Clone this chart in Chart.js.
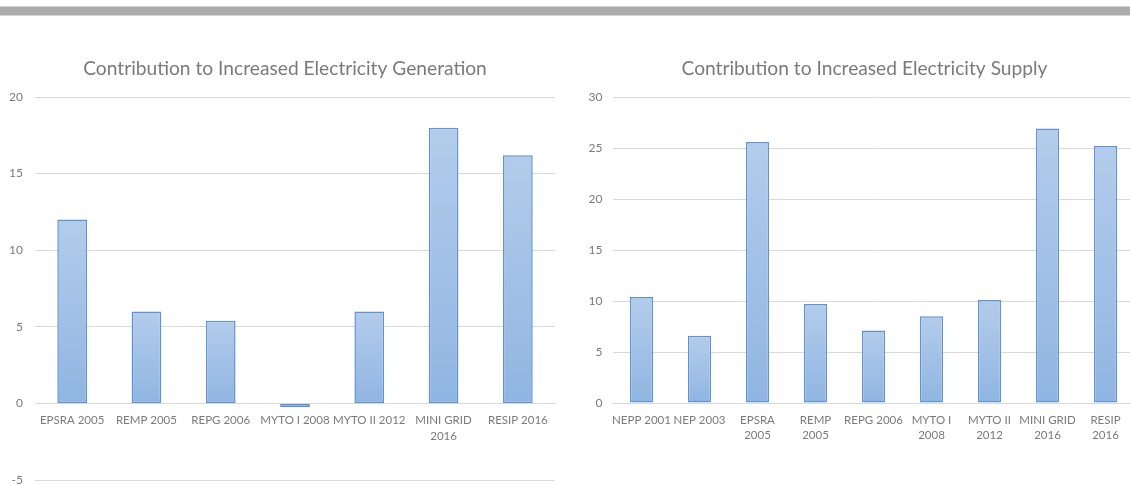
<!DOCTYPE html>
<html>
<head>
<meta charset="utf-8">
<script src="https://cdn.jsdelivr.net/npm/chart.js@4/dist/chart.umd.min.js"></script>
<style>
  html, body { margin: 0; padding: 0; background: #ffffff; overflow: hidden; width: 1130px; height: 485px; }
  #band { position: absolute; left: 0; top: 6px; width: 1130px; height: 8px; background: #ababab;
          border-top: 1px solid #d4d4d4; border-bottom: 1px solid #d4d4d4; }
  canvas { position: absolute; top: 0; }
  #gen { left: 0; }
  #supply { left: 575px; }
</style>
</head>
<body>
<div id="band"></div>
<canvas id="gen" width="570" height="525"></canvas>
<canvas id="supply" width="579" height="485"></canvas>
<script>
// Policy contribution to increased electricity generation
const genTitle = 'Contribution to Increased Electricity Generation';
const genLabels = ['EPSRA 2005', 'REMP 2005', 'REPG 2006', 'MYTO I 2008', 'MYTO II 2012', ['MINI GRID', '2016'], 'RESIP 2016'];
const genValues = [12, 6, 5.4, -0.25, 6, 18, 16.2];
const genTicks = { min: -5, max: 20, step: 5 };

// Policy contribution to increased electricity supply
const supplyTitle = 'Contribution to Increased Electricity Supply';
const supplyLabels = ['NEPP 2001', 'NEP 2003', ['EPSRA', '2005'], ['REMP', '2005'], 'REPG 2006', ['MYTO I', '2008'], ['MYTO II', '2012'], ['MINI GRID', '2016'], ['RESIP', '2016']];
const supplyValues = [10.4, 6.6, 25.6, 9.7, 7.1, 8.5, 10.1, 26.9, 25.2];
const supplyTicks = { min: 0, max: 30, step: 5 };

const FONT = 'Lato, "Open Sans", sans-serif';
const TEXT = '#7a7a7a';
const GRID = '#d9d9d9';

// Chart heading centred across the whole canvas (the built-in title is
// centred between the layout paddings, which sit off-centre here)
const canvasTitle = {
  id: 'canvasTitle',
  afterDraw(chart, args, opts) {
    const ctx = chart.ctx;
    ctx.save();
    ctx.font = 'normal ' + opts.size + 'px ' + FONT;
    ctx.fillStyle = opts.color;
    ctx.textAlign = 'center';
    ctx.textBaseline = 'middle';
    ctx.fillText(opts.text, chart.width / 2, opts.y);
    ctx.restore();
  }
};

// Each bar shades from a pale blue at its top to a deeper blue at the baseline
function barFill(ctx) {
  const chart = ctx.chart;
  const y = chart.scales && chart.scales.y;
  if (!y || !chart.chartArea || ctx.raw === undefined) return '#a6c3e6';
  const top = y.getPixelForValue(ctx.raw);
  const base = y.getPixelForValue(0);
  if (!isFinite(top) || Math.abs(top - base) < 1) return '#a6c3e6';
  const g = chart.ctx.createLinearGradient(0, top, 0, base);
  g.addColorStop(0, '#b3cceb');
  g.addColorStop(1, '#90b5e2');
  return g;
}

function makeChart(id, title, labels, values, ticks, geom) {
  return new Chart(document.getElementById(id), {
    type: 'bar',
    plugins: [canvasTitle],
    data: {
      labels: labels,
      datasets: [{
        data: values,
        backgroundColor: barFill,
        borderColor: '#5f93d2',
        borderWidth: 1.5,
        borderSkipped: false,
        categoryPercentage: 1,
        barPercentage: 0.4
      }]
    },
    options: {
      responsive: false,
      animation: false,
      devicePixelRatio: 1,
      layout: { padding: { left: 0, right: geom.padRight, top: 97, bottom: geom.padBottom } },
      plugins: {
        legend: { display: false },
        tooltip: { enabled: false },
        title: { display: false },
        canvasTitle: { text: title, color: TEXT, size: 19.2, y: 68.5 }
      },
      scales: {
        x: {
          position: geom.xAtZero ? { y: 0 } : 'bottom',
          grid: { display: false, drawTicks: false },
          border: { display: true, color: GRID, width: 1 },
          ticks: {
            color: TEXT,
            font: { family: FONT, size: 11.5, lineHeight: 1.33 },
            padding: 9.5,
            autoSkip: false,
            maxRotation: 0,
            minRotation: 0
          },
          afterFit: (s) => { s.height = 40; }
        },
        y: {
          min: ticks.min,
          max: ticks.max,
          grid: { color: GRID, lineWidth: 1, drawTicks: false },
          border: { display: false },
          ticks: {
            stepSize: ticks.step,
            color: TEXT,
            font: { family: FONT, size: 12 },
            padding: geom.yPad
          },
          afterFit: (s) => { s.width = geom.yWidth; }
        }
      }
    }
  });
}

makeChart('gen', genTitle, genLabels, genValues, genTicks,
  { padRight: 15, padBottom: 45, yWidth: 35, yPad: 12, xAtZero: true });
makeChart('supply', supplyTitle, supplyLabels, supplyValues, supplyTicks,
  { padRight: 19.5, padBottom: 42, yWidth: 37.5, yPad: 10, xAtZero: false });
</script>
</body>
</html>
